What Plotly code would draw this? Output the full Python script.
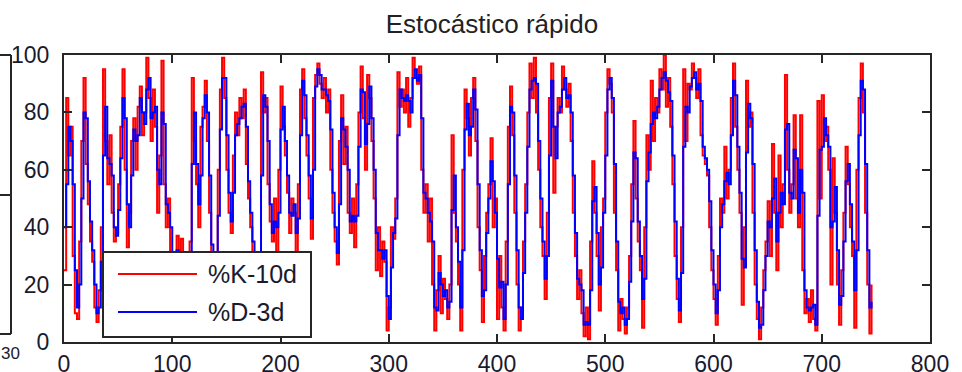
import plotly.graph_objects as go

DAYS = list(range(0, 748, 2))

K_10D = [
    25, 85, 65, 75, 30, 10, 8, 35, 70, 92,
    62, 48, 35, 28, 12, 7, 18, 40, 95, 70,
    55, 72, 45, 35, 38, 55, 75, 95, 60, 33,
    45, 70, 78, 60, 82, 89, 72, 80, 99, 85,
    70, 88, 75, 45, 65, 98, 55, 40, 50, 30,
    20, 28, 37, 15, 36, 12, 5, 22, 35, 92,
    70, 55, 40, 75, 82, 91, 70, 45, 22, 10,
    28, 60, 88, 99, 85, 60, 45, 38, 65, 80,
    72, 85, 78, 88, 62, 50, 40, 30, 18, 8,
    25, 94, 80, 85, 55, 42, 35, 50, 30, 60,
    89, 75, 65, 52, 38, 50, 45, 31, 55, 88,
    95, 78, 65, 50, 36, 85, 93, 97, 90, 85,
    92, 80, 88, 60, 45, 35, 27, 70, 86, 62,
    75, 45, 38, 50, 33, 55, 80, 96, 78, 60,
    93, 85, 70, 50, 25, 40, 23, 35, 28, 4,
    12, 40, 36, 50, 94, 82, 88, 80, 92, 75,
    85, 99, 92, 90, 96, 60, 45, 55, 35, 50,
    20, 4, 18, 30, 10, 22, 15, 8, 20, 72,
    45, 35, 20, 4, 60, 88, 78, 65, 85, 92,
    70, 40, 25, 7, 30, 45, 55, 71, 40, 50,
    8, 30, 12, 4, 35, 75, 89, 72, 45, 20,
    4, 12, 35, 55, 80, 97, 85, 99, 80, 60,
    40, 30, 15, 45, 85, 97, 52, 75, 85, 80,
    96, 88, 82, 90, 70, 45, 30, 15, 25, 10,
    2, 12, 1, 35, 63, 45, 30, 11, 40, 50,
    80, 95, 90, 80, 45, 25, 4, 15, 8, 3,
    12, 30, 55, 77, 50, 35, 25, 5, 40, 72,
    60, 91, 70, 85, 80, 95, 88, 100, 82, 92,
    75, 55, 30, 15, 7, 40, 95, 70, 90, 88,
    97, 92, 85, 95, 72, 65, 62, 58, 40, 25,
    15, 6, 30, 50, 45, 68, 50, 60, 85, 97,
    75, 60, 45, 13, 40, 91, 75, 80, 45, 20,
    8, 1, 12, 25, 35, 49, 30, 69, 45, 25,
    65, 40, 55, 93, 60, 45, 55, 79, 50, 40,
    79, 25, 10, 15, 7, 18, 8, 4, 84, 50,
    86, 70, 75, 60, 20, 64, 45, 20, 6, 25,
    45, 68, 55, 40, 30, 5, 60, 85, 97, 80,
    45, 20, 3, 20,
]

D_3D = [
    40, 55, 75, 70, 55, 25, 12, 20, 50, 80,
    78, 56, 42, 32, 20, 10, 12, 28, 65, 82,
    64, 62, 58, 40, 37, 46, 64, 85, 78, 48,
    40, 58, 74, 70, 72, 85, 80, 76, 88, 92,
    78, 80, 82, 60, 55, 80, 76, 48, 45, 40,
    25, 24, 32, 26, 25, 24, 10, 14, 28, 62,
    80, 62, 48, 58, 78, 86, 80, 58, 34, 16,
    19, 44, 74, 92, 92, 72, 52, 42, 52, 72,
    76, 78, 82, 83, 75, 56, 45, 35, 24, 13,
    16, 58, 86, 82, 70, 48, 38, 42, 40, 45,
    74, 82, 70, 58, 45, 44, 48, 38, 43, 72,
    91, 86, 72, 58, 43, 60, 89, 95, 93, 88,
    88, 86, 84, 74, 52, 40, 31, 48, 78, 74,
    68, 60, 42, 44, 42, 44, 68, 88, 87, 69,
    76, 89, 78, 60, 38, 32, 32, 29, 32, 16,
    8, 26, 38, 43, 72, 88, 85, 84, 86, 84,
    80, 92, 95, 91, 93, 78, 52, 50, 45, 42,
    35, 12, 11, 24, 20, 16, 18, 12, 14, 46,
    58, 40, 28, 12, 32, 74, 83, 72, 75, 88,
    81, 55, 32, 16, 18, 38, 50, 63, 56, 45,
    29, 19, 21, 8, 20, 55, 82, 80, 58, 32,
    12, 8, 24, 45, 68, 88, 91, 92, 90, 70,
    50, 35, 22, 30, 65, 91, 75, 64, 80, 82,
    88, 92, 85, 86, 80, 58, 38, 22, 20, 18,
    6, 7, 6, 18, 49, 54, 38, 20, 26, 45,
    65, 88, 92, 85, 62, 35, 14, 10, 12, 6,
    8, 21, 42, 66, 64, 42, 30, 15, 22, 56,
    66, 76, 80, 78, 82, 88, 92, 94, 91, 87,
    84, 65, 42, 22, 11, 24, 68, 82, 80, 89,
    92, 94, 88, 90, 84, 68, 64, 60, 49, 32,
    20, 10, 18, 40, 48, 56, 59, 55, 72, 91,
    86, 68, 52, 29, 26, 66, 83, 78, 62, 32,
    14, 5, 6, 18, 30, 42, 40, 50, 57, 35,
    45, 52, 48, 74, 76, 52, 50, 67, 64, 45,
    60, 52, 18, 12, 11, 12, 13, 6, 44, 67,
    68, 78, 72, 68, 40, 42, 54, 32, 13, 16,
    35, 56, 62, 48, 35, 18, 32, 72, 91, 88,
    62, 32, 12, 14,
]

X_TICKS = [0, 100, 200, 300, 400, 500, 600, 700, 800]
Y_TICKS = [0, 20, 40, 60, 80, 100]
TITLE = "Estocástico rápido"
NAMES = ["%K-10d", "%D-3d"]
COLORS = ["#ff0000", "#0000ff"]

FONT = "Liberation Sans, Arial, sans-serif"
AX = "#262626"
TXT = "#1a1a2e"

fig = go.Figure()
fig.add_trace(go.Scatter(x=DAYS, y=K_10D, mode="lines", name=NAMES[0],
                         line=dict(color=COLORS[0], width=2, shape="hv"), showlegend=False))
fig.add_trace(go.Scatter(x=DAYS, y=D_3D, mode="lines", name=NAMES[1],
                         line=dict(color=COLORS[1], width=2, shape="hv"), showlegend=False))

L, R, T, B = 64, 32, 55, 30
W, H = 962, 372
pw, ph = W - L - R, H - T - B

def px(xp):
    return (xp - L) / pw

def py(yp):
    return (H - B - yp) / ph

axis_common = dict(showgrid=False, zeroline=False, showline=True, linecolor=AX,
                   linewidth=2, mirror="ticks", ticks="inside", ticklen=8,
                   tickwidth=2, tickcolor=AX, automargin=False,
                   tickfont=dict(family=FONT, size=23, color=TXT))

fig.update_layout(
    width=W, height=H,
    margin=dict(l=L, r=R, t=T, b=B, autoexpand=False),
    paper_bgcolor="white", plot_bgcolor="white",
    title=dict(text=TITLE, x=492 / W, xanchor="center", y=1 - 24 / H,
               yanchor="middle", font=dict(family=FONT, size=26, color="#222222")),
    xaxis=dict(range=[0, 800], tickvals=X_TICKS, ticklabelstandoff=0, **axis_common),
    yaxis=dict(range=[0, 100], tickvals=Y_TICKS, ticklabelstandoff=8, **axis_common),
    showlegend=False,
)

shapes = []
# partial neighbouring axes at the far left
shapes.append(dict(type="line", xref="paper", yref="paper", x0=px(-2), x1=px(11),
                   y0=py(55), y1=py(55), line=dict(color=AX, width=2)))
shapes.append(dict(type="line", xref="paper", yref="paper", x0=px(11), x1=px(11),
                   y0=py(55), y1=py(334), line=dict(color=AX, width=2)))
shapes.append(dict(type="line", xref="paper", yref="paper", x0=px(-2), x1=px(11),
                   y0=py(334), y1=py(334), line=dict(color=AX, width=2)))
shapes.append(dict(type="line", xref="paper", yref="paper", x0=px(-2), x1=px(11),
                   y0=py(195), y1=py(195), line=dict(color=AX, width=2)))
# legend box
shapes.append(dict(type="rect", xref="paper", yref="paper", x0=px(103), x1=px(311),
                   y0=py(337), y1=py(252), fillcolor="white",
                   line=dict(color=AX, width=2), layer="above"))
for i, yl in enumerate([274, 312]):
    shapes.append(dict(type="line", xref="paper", yref="paper", x0=px(118), x1=px(197),
                       y0=py(yl), y1=py(yl), line=dict(color=COLORS[i], width=2),
                       layer="above"))
fig.update_layout(shapes=shapes)

annotations = []
for i, yl in enumerate([274, 312]):
    annotations.append(dict(text=NAMES[i], xref="paper", yref="paper", x=px(206), y=py(yl),
                            xanchor="left", yanchor="middle", showarrow=False,
                            font=dict(family=FONT, size=25, color=TXT)))
annotations.append(dict(text="30", xref="paper", yref="paper", x=px(0), y=py(353),
                        xanchor="left", yanchor="middle", showarrow=False, borderpad=0,
                        font=dict(family=FONT, size=17, color=TXT)))
fig.update_layout(annotations=annotations)

fig.write_html("out.html", config=dict(displayModeBar=False),
               post_script="document.body.style.margin='0';document.body.style.overflow='hidden';")
